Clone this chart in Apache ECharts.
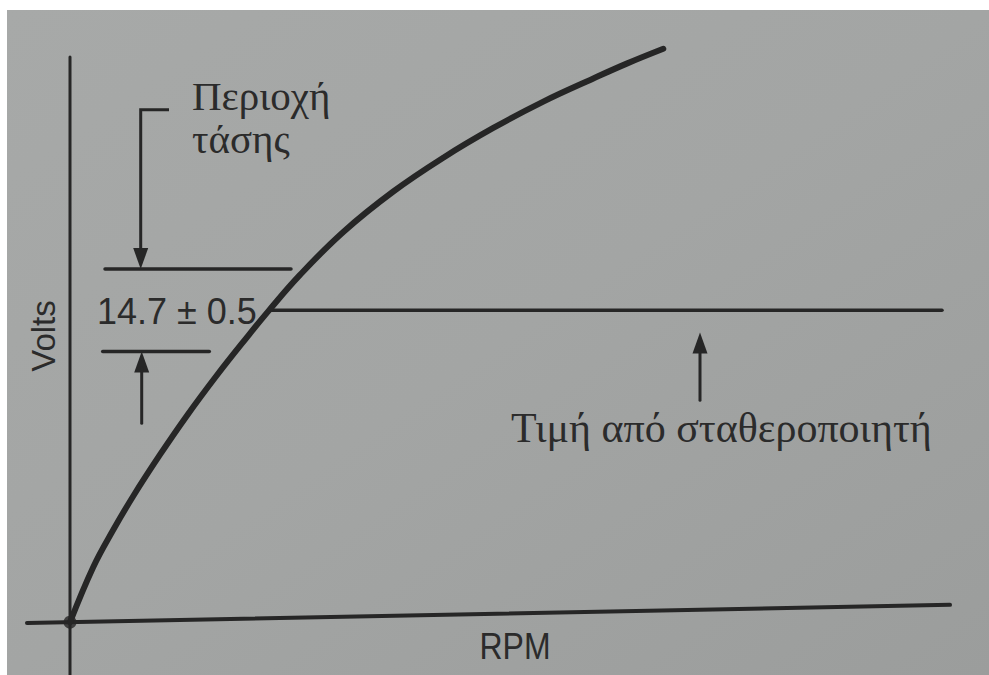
<!DOCTYPE html>
<html>
<head>
<meta charset="utf-8">
<script src="https://cdn.jsdelivr.net/npm/echarts@6/dist/echarts.min.js"></script>
<style>
  html, body { margin: 0; padding: 0; background: #ffffff; }
  #chart { width: 989px; height: 675px; }
</style>
</head>
<body>
<div id="chart"></div>
<script>
// Alternator output vs engine speed, with the regulator clamping the voltage.
// x: engine speed (arbitrary RPM units), y: volts.

// Unregulated alternator output curve
const curveRPM   = [0, 2.33, 4.33, 6.33, 9.0, 11.67, 14.67, 17.67, 19.9, 23.0, 27.33, 32.33, 37.33, 42.33, 47.33, 52.33, 55.67, 59.33];
const curveVolts = [10.92, 11.59, 12.04, 12.45, 12.95, 13.42, 13.91, 14.37, 14.7, 15.13, 15.65, 16.14, 16.55, 16.91, 17.23, 17.51, 17.69, 17.87];

// Regulated value
const regulatedVolts = 14.7;
const tolerance = 0.5;
const regulatorRPM = [19.9, 87.2];

// Tolerance band marks (start / end RPM of each bar)
const upperBarRPM = [3.5, 22.1];
const lowerBarRPM = [3.27, 13.93];

// Axis lines (RPM axis as printed, volts axis)
const rpmAxisRPM   = [-4.3, 88.0];
const rpmAxisVolts = [10.91, 11.13];
const voltAxisRPM   = [0, 0];
const voltAxisVolts = [17.77, 10.28];

// Pointer arrows: shaft ends and tip
const bracketRPM   = [9.9, 7.07, 7.07];
const bracketVolts = [17.13, 17.13, 15.45];
const lowArrowRPM   = [7.17, 7.17];
const lowArrowVolts = [13.33, 14.0];
const regArrowRPM   = [63.0, 63.0];
const regArrowVolts = [13.61, 14.2];
// [rpm, volts at tip, direction (+1 up, -1 down)]
const arrowTips = [
  [7.07, regulatedVolts + tolerance, -1],
  [7.17, regulatedVolts - tolerance, 1],
  [63.0, 14.43, 1]
];

const ink = '#262626';
const textInk = '#2b2b2b';
const zip = (xs, ys) => xs.map((x, i) => [x, ys[i]]);

const lineSeries = (data, width, extra) => Object.assign({
  type: 'line',
  data: data,
  symbol: 'none',
  clip: false,
  silent: true,
  lineStyle: { color: ink, width: width, cap: 'round' }
}, extra || {});

const chart = echarts.init(document.getElementById('chart'), null, { renderer: 'svg' });

chart.setOption({
  animation: false,
  backgroundColor: '#ffffff',
  grid: {
    left: 7, top: 10, right: 0, bottom: 0,
    show: true, borderWidth: 0,
    backgroundColor: {
      type: 'linear', x: 0, y: 0, x2: 1, y2: 1,
      colorStops: [
        { offset: 0, color: '#a7a9a8' },
        { offset: 0.5, color: '#a3a5a4' },
        { offset: 1, color: '#9b9d9c' }
      ]
    }
  },
  xAxis: { type: 'value', min: -6.3, max: 91.9, show: false },
  yAxis: { type: 'value', min: 10.28, max: 18.34, show: false },
  series: [
    lineSeries(zip(voltAxisRPM, voltAxisVolts), 3),
    lineSeries(zip(rpmAxisRPM, rpmAxisVolts), 4),
    lineSeries(zip(upperBarRPM, [regulatedVolts + tolerance, regulatedVolts + tolerance]), 3.5),
    lineSeries(zip(lowerBarRPM, [regulatedVolts - tolerance, regulatedVolts - tolerance]), 3.5),
    lineSeries(zip(regulatorRPM, [regulatedVolts, regulatedVolts]), 3.5),
    lineSeries(zip(bracketRPM, bracketVolts), 3, { lineStyle: { color: ink, width: 3, cap: 'butt', join: 'miter' } }),
    lineSeries(zip(lowArrowRPM, lowArrowVolts), 3),
    lineSeries(zip(regArrowRPM, regArrowVolts), 3),
    lineSeries(zip(curveRPM, curveVolts), 6, { smooth: 0.4 }),
    {
      type: 'custom',
      silent: true,
      clip: false,
      data: arrowTips,
      encode: { x: 0, y: 1 },
      renderItem: function (params, api) {
        const p = api.coord([api.value(0), api.value(1)]);
        const d = api.value(2);
        return {
          type: 'polygon',
          shape: { points: [[p[0], p[1]], [p[0] - 7.5, p[1] + d * 21], [p[0] + 7.5, p[1] + d * 21]] },
          style: { fill: ink }
        };
      }
    },
    {
      type: 'scatter',
      silent: true,
      data: [[curveRPM[0], curveVolts[0]]],
      symbol: 'circle',
      symbolSize: 13,
      itemStyle: { color: ink }
    }
  ],
  graphic: [
    {
      type: 'text', left: 192, top: 75,
      style: { text: 'Περιοχή', font: '41px "Liberation Serif", "DejaVu Serif", serif', fill: textInk }
    },
    {
      type: 'text', left: 192, top: 118,
      style: { text: 'τάσης', font: '41px "Liberation Serif", "DejaVu Serif", serif', fill: textInk }
    },
    {
      type: 'text', left: 97, top: 292, scaleY: 1.05,
      style: { text: '14.7 ± 0.5', font: '36px "Liberation Sans", Arial, sans-serif', fill: textInk }
    },
    {
      type: 'text', x: 43, y: 336, rotation: Math.PI / 2,
      style: { text: 'Volts', font: '33px "Liberation Sans", Arial, sans-serif', fill: textInk, align: 'center', verticalAlign: 'middle' }
    },
    {
      type: 'text', x: 515, y: 646, scaleY: 1.15,
      style: { text: 'RPM', font: '32px "Liberation Sans", Arial, sans-serif', fill: textInk, align: 'center', verticalAlign: 'middle' }
    },
    {
      type: 'text', left: 511, top: 407,
      style: { text: 'Τιμή από σταθεροποιητή', font: '42px "Liberation Serif", "DejaVu Serif", serif', fill: textInk }
    }
  ]
});
</script>
</body>
</html>
